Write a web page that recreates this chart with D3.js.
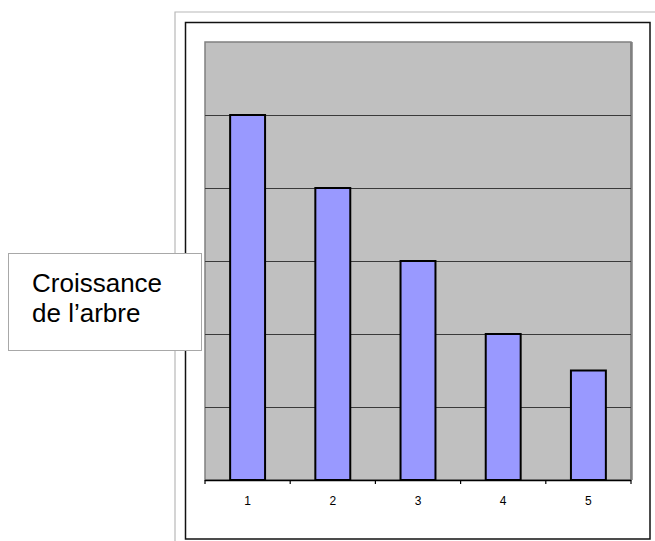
<!DOCTYPE html>
<html>
<head>
<meta charset="utf-8">
<script src="https://cdn.jsdelivr.net/npm/d3@7"></script>
<style>
  html, body { margin: 0; padding: 0; background: #fff; }
  svg { display: block; font-family: "Liberation Sans", Arial, sans-serif; }
</style>
</head>
<body>
<div id="chart"></div>
<script>
// --- dati ---
const categories = ["1", "2", "3", "4", "5"];
const values     = [5, 4, 3, 2, 1.5];
const gridValues = [1, 2, 3, 4, 5];
const labelLines = ["Croissance", "de l\u2019arbre"];

const W = 655, H = 541;
const plot = { left: 205, right: 631, top: 42, bottom: 480 };

const svg = d3.select("#chart").append("svg")
  .attr("width", W).attr("height", H);

// cornice esterna grigia (solo alto e sinistra visibili)
svg.append("path")
  .attr("d", `M175,${H} L175,12 L${W},12`)
  .attr("fill", "none").attr("stroke", "#b8b8b8").attr("stroke-width", 1.2);

// cornice nera del grafico
svg.append("rect")
  .attr("x", 185.5).attr("y", 22.5).attr("width", 464.5).attr("height", 516.5)
  .attr("fill", "#fff").attr("stroke", "#111").attr("stroke-width", 1.5);

// scale
const x = d3.scaleBand()
  .domain(categories)
  .range([plot.left, plot.right])
  .paddingInner(0.59)
  .paddingOuter(0.295);

const y = d3.scaleLinear().domain([0, 6]).range([plot.bottom, plot.top]);

// area del grafico
svg.append("rect")
  .attr("x", plot.left).attr("y", plot.top)
  .attr("width", plot.right - plot.left).attr("height", plot.bottom - plot.top)
  .attr("fill", "#c0c0c0").attr("stroke", "#808080").attr("stroke-width", 1.5);
svg.append("line")
  .attr("x1", plot.right + 0.5).attr("x2", plot.right + 0.5)
  .attr("y1", plot.top).attr("y2", plot.bottom)
  .attr("stroke", "#808080").attr("stroke-width", 2.5);

// griglia
svg.append("g").selectAll("line")
  .data(gridValues).enter().append("line")
  .attr("x1", plot.left).attr("x2", plot.right)
  .attr("y1", d => Math.round(y(d)) + 0.5).attr("y2", d => Math.round(y(d)) + 0.5)
  .attr("stroke", "#3a3a3a").attr("stroke-width", 1);

// barre
svg.append("g").selectAll("rect")
  .data(categories.map((c, i) => ({ c, v: values[i] })))
  .enter().append("rect")
  .attr("x", d => x(d.c))
  .attr("y", d => y(d.v))
  .attr("width", x.bandwidth())
  .attr("height", d => y(0) - y(d.v))
  .attr("fill", "#9999ff")
  .attr("stroke", "#000").attr("stroke-width", 2);

// asse x: etichette al centro, tacche ai bordi delle categorie
const xAxis = svg.append("g")
  .attr("transform", `translate(0,${plot.bottom})`)
  .call(d3.axisBottom(x).tickSize(0).tickPadding(16));
xAxis.select(".domain").attr("stroke", "#000").attr("stroke-width", 1.5)
  .attr("d", `M${plot.left},0.5H${plot.right}`);
xAxis.selectAll("text")
  .attr("font-size", "12px")
  .attr("font-family", "'Liberation Sans', Arial, sans-serif")
  .attr("fill", "#000");

const step = x.step();
const edges = categories.map(c => x(c) - step * x.paddingInner() / 2)
  .concat([x(categories[categories.length - 1]) + x.bandwidth() + step * x.paddingInner() / 2]);
xAxis.selectAll(".edge").data(edges).enter().append("line")
  .attr("class", "edge")
  .attr("x1", d => d).attr("x2", d => d)
  .attr("y1", 0).attr("y2", 4)
  .attr("stroke", "#000").attr("stroke-width", 1.2);

// riquadro etichetta
svg.append("rect")
  .attr("x", 8.5).attr("y", 253.5).attr("width", 193).attr("height", 97)
  .attr("fill", "#fff").attr("stroke", "#a8a8a8").attr("stroke-width", 1);

svg.append("g").selectAll("text")
  .data(labelLines).enter().append("text")
  .attr("x", 32)
  .attr("y", (d, i) => 292 + i * 30)
  .attr("font-size", "26px")
  .attr("fill", "#000")
  .text(d => d);
</script>
</body>
</html>
